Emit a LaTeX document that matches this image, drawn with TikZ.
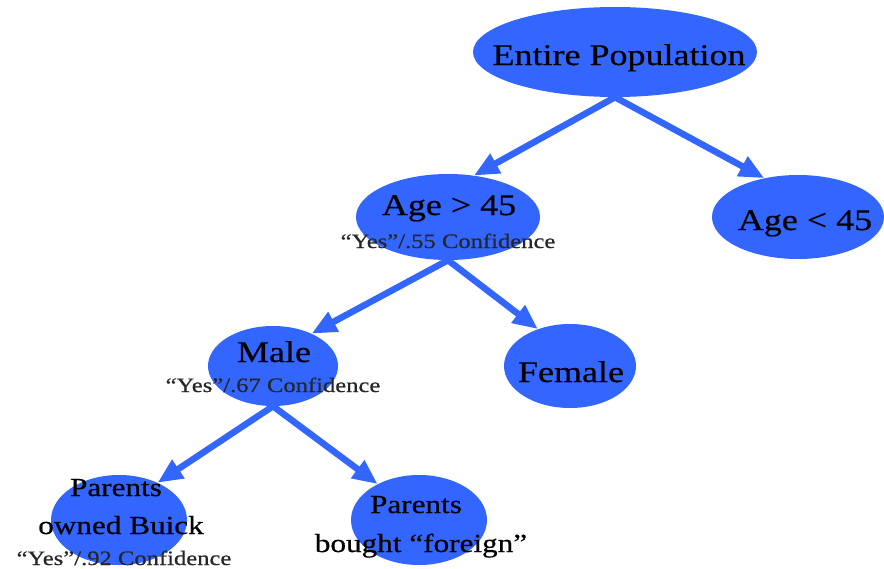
\documentclass[tikz,border=0pt]{standalone}
\usepackage{fontspec}
\setmainfont[FakeStretch=1.2,FakeBold=0.6]{Liberation Serif}
\usetikzlibrary{shapes.geometric,arrows.meta}
\definecolor{nodeblue}{RGB}{51,102,255}

\begin{document}
\begin{tikzpicture}[x=1pt,y=-1pt,
  blob/.style={ellipse, fill=nodeblue, draw=none, inner sep=0pt},
  bigtxt/.style={font=\fontsize{30}{34}\selectfont, anchor=base, inner sep=0pt, text=black},
  midtxt/.style={font=\fontsize{26}{30}\selectfont, anchor=base, inner sep=0pt, text=black},
  smalltxt/.style={font=\fontsize{20.5}{24}\selectfont, anchor=base, inner sep=0pt, text=black!85},
  link/.style={draw=nodeblue, line width=6.5pt, -{Triangle[length=25pt,width=21pt]}}
]
\useasboundingbox (0,0) rectangle (884,568);

% decision nodes
\node[blob, minimum width=284pt, minimum height=90pt] (ep) at (615,52) {};
\node[blob, minimum width=172pt, minimum height=84pt] (young) at (798,217) {};
\node[blob, minimum width=184pt, minimum height=86pt] (old) at (448,217) {};
\node[blob, minimum width=130pt, minimum height=80pt] (male) at (273,366) {};
\node[blob, minimum width=132pt, minimum height=84pt] (female) at (570,366) {};
\node[blob, minimum width=136pt, minimum height=90pt] (buick) at (119,520) {};
\node[blob, minimum width=136pt, minimum height=90pt] (foreign) at (419,520) {};

% branches
\draw[link] (ep.south) -- (old.58);
\draw[link] (ep.south) -- (young.131);
\draw[link] (old.south) -- (male.40);
\draw[link] (old.south) -- (female.131);
\draw[link] (male.south) -- (buick.44);
\draw[link] (male.south) -- (foreign.139);

% labels
\node[bigtxt] (tep) at (619,65) {Entire Population};
\node[bigtxt] (tyoung) at (805,230) {Age < 45};
\node[bigtxt] (told) at (449,215) {Age > 45};
\node[smalltxt] (cold) at (448,248) {“Yes”/.55 Confidence};
\node[bigtxt] (tmale) at (274,362) {Male};
\node[smalltxt] (cmale) at (273,392) {“Yes”/.67 Confidence};
\node[bigtxt] (tfemale) at (571,382) {Female};
\node[midtxt] (tbuick1) at (116,496) {Parents};
\node[midtxt] (tbuick2) at (121,534) {owned Buick};
\node[smalltxt] (cbuick) at (124,565) {“Yes”/.92 Confidence};
\node[midtxt] (tforeign1) at (416,513) {Parents};
\node[midtxt] (tforeign2) at (421,552) {bought “foreign”};
\end{tikzpicture}
\end{document}
